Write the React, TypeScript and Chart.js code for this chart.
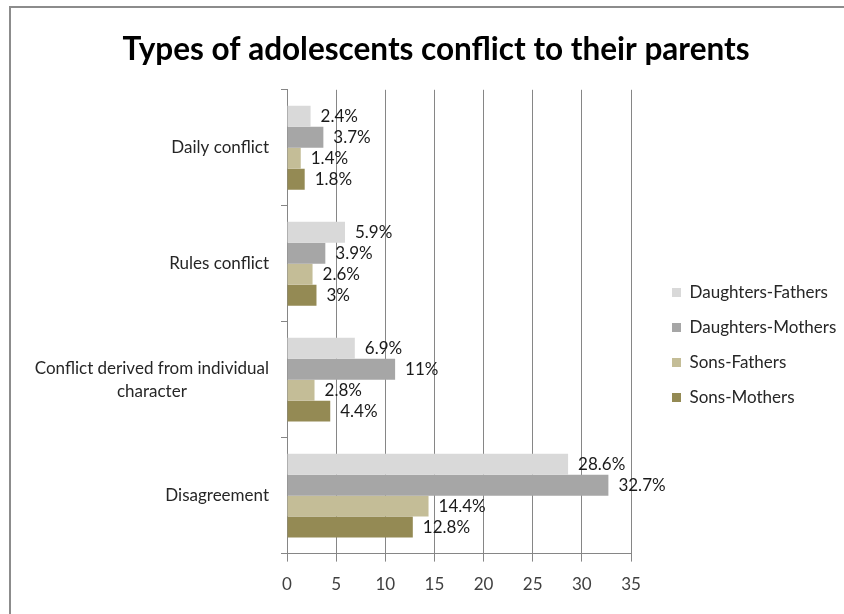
import React, { useEffect, useRef } from 'react';
import { Chart, registerables, layouts } from 'chart.js';

Chart.register(...registerables);

const TITLE = 'Types of adolescents conflict to their parents';
const categories: (string | string[])[] = [
  'Daily conflict',
  'Rules conflict',
  ['Conflict derived from individual', 'character'],
  'Disagreement',
];
const seriesNames = ['Daughters-Fathers', 'Daughters-Mothers', 'Sons-Fathers', 'Sons-Mothers'];
const daughtersFathers = [2.4, 5.9, 6.9, 28.6];
const daughtersMothers = [3.7, 3.9, 11, 32.7];
const sonsFathers = [1.4, 2.6, 2.8, 14.4];
const sonsMothers = [1.8, 3, 4.4, 12.8];
const seriesColors = ['#d9d9d9', '#a6a6a6', '#c4bd97', '#948a54'];
const xMin = 0;
const xMax = 35;
const xStep = 5;

const W = 852;
const H = 606;
const LEGEND_LEFT = 644;
const FONT = 'Lato';

function makeSpacer(weight: number, getWidth: () => number) {
  return {
    position: 'right',
    weight,
    fullSize: false,
    options: { display: false },
    left: 0,
    top: 0,
    right: 0,
    bottom: 0,
    width: 0,
    height: 0,
    isHorizontal() {
      return false;
    },
    update(_maxWidth: number, maxHeight: number) {
      this.width = getWidth();
      this.height = maxHeight;
      return { width: this.width, height: this.height };
    },
    draw() {},
  };
}

const spacerPlugin = {
  id: 'spacers',
  beforeInit(chart: any) {
    layouts.addBox(chart, makeSpacer(500, () => 23) as any);
    layouts.addBox(
      chart,
      makeSpacer(1500, () => Math.max(0, W - LEGEND_LEFT - (chart.legend ? chart.legend.width : 0))) as any
    );
  },
};

const yLabelPlugin = {
  id: 'yLabels',
  afterDraw(chart: any) {
    const { ctx, chartArea, scales } = chart;
    const y = scales.y;
    ctx.save();
    ctx.font = `17px ${FONT}`;
    ctx.fillStyle = '#262626';
    ctx.textBaseline = 'middle';
    ctx.textAlign = 'center';
    const lineH = 23;
    (chart.data.labels as (string | string[])[]).forEach((lab, i) => {
      const lines = Array.isArray(lab) ? lab : [lab];
      const maxW = Math.max(...lines.map((l) => ctx.measureText(l).width));
      const cx = chartArea.left - 18 - maxW / 2;
      const cy = y.getPixelForValue(i);
      lines.forEach((l, k) => ctx.fillText(l, cx, cy + (k - (lines.length - 1) / 2) * lineH));
    });
    ctx.restore();
  },
};

const valueLabelPlugin = {
  id: 'valueLabels',
  afterDatasetsDraw(chart: any) {
    const { ctx } = chart;
    ctx.save();
    ctx.font = `17px ${FONT}`;
    ctx.fillStyle = '#1a1a1a';
    ctx.textBaseline = 'middle';
    ctx.textAlign = 'left';
    chart.data.datasets.forEach((ds: any, di: number) => {
      const meta = chart.getDatasetMeta(di);
      meta.data.forEach((bar: any, i: number) => {
        ctx.fillText(`${ds.data[i]}%`, bar.x + 10, bar.y);
      });
    });
    ctx.restore();
  },
};

export default function App() {
  const ref = useRef<HTMLCanvasElement>(null);
  useEffect(() => {
    Chart.defaults.font.family = FONT;
    const seriesData = [daughtersFathers, daughtersMothers, sonsFathers, sonsMothers];
    const chart = new Chart(ref.current!, {
      type: 'bar',
      data: {
        labels: categories,
        datasets: seriesNames.map((name, i) => ({
          label: name,
          data: seriesData[i],
          backgroundColor: seriesColors[i],
          borderWidth: 0,
          categoryPercentage: 0.723,
          barPercentage: 1,
        })),
      },
      options: {
        indexAxis: 'y',
        responsive: false,
        animation: false,
        devicePixelRatio: 1,
        layout: { padding: { bottom: 6 } },
        scales: {
          x: {
            min: xMin,
            max: xMax,
            ticks: { stepSize: xStep, font: { size: 17 }, color: '#404040', padding: 13 },
            grid: { color: '#868686', tickLength: 8, lineWidth: 1 },
            border: { color: '#868686' },
          },
          y: {
            type: 'category',
            ticks: { display: false },
            grid: { drawOnChartArea: false, tickLength: 6, color: '#868686', offset: true },
            border: { color: '#868686' },
            afterFit(scale: any) {
              scale.width = 277;
            },
          },
        },
        plugins: {
          title: {
            display: true,
            text: TITLE,
            color: '#000',
            font: { family: FONT, size: 31.5, weight: 'bold' },
            padding: { top: 23, bottom: 21 },
          },
          legend: {
            position: 'right',
            fullSize: false,
            title: { display: true, text: '', padding: { top: 16, bottom: 16 }, font: { size: 12 } },
            labels: {
              boxWidth: 9,
              boxHeight: 9,
              padding: 18,
              color: '#262626',
              font: { size: 17 },
            },
          },
          tooltip: { enabled: false },
        },
      },
      plugins: [spacerPlugin, yLabelPlugin, valueLabelPlugin],
    } as any);
    return () => chart.destroy();
  }, []);

  return (
    <div
      style={{
        position: 'fixed',
        left: 0,
        top: 0,
        width: 844,
        height: 614,
        overflow: 'hidden',
        background: '#fff',
      }}
    >
      <div
        style={{
          position: 'absolute',
          left: 9,
          top: 6,
          width: 900,
          height: 700,
          borderTop: '2px solid #8c8c8c',
          borderLeft: '2px solid #8c8c8c',
        }}
      />
      <canvas
        ref={ref}
        width={W}
        height={H}
        style={{ position: 'absolute', left: 10, top: 8, width: W, height: H }}
      />
    </div>
  );
}
